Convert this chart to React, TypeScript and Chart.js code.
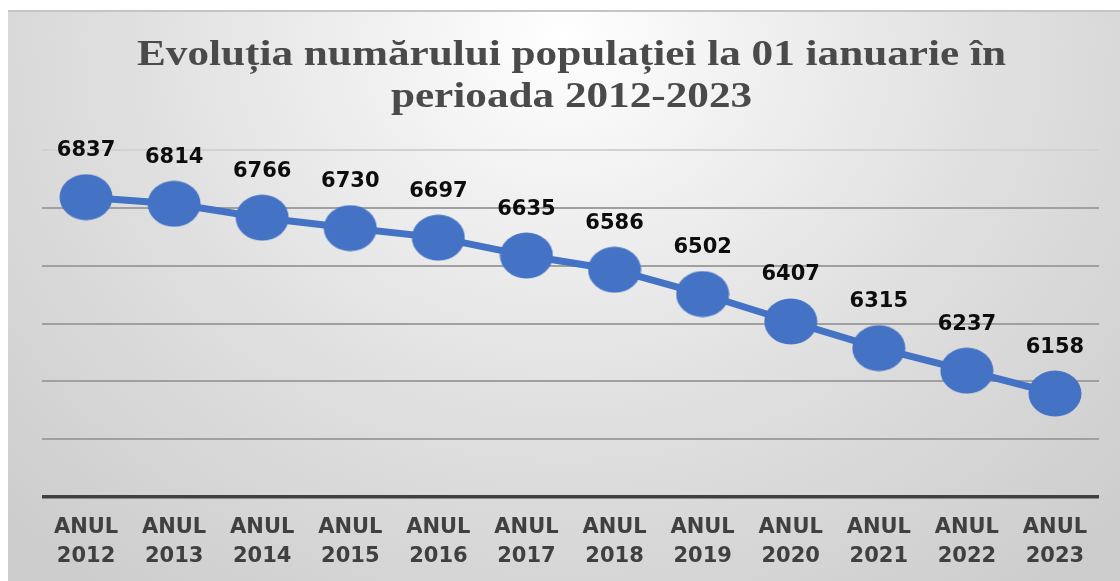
import React, { useEffect, useRef } from "react";
import { Chart, registerables } from "chart.js";

Chart.register(...registerables);

// ---- data ----
const yearLabels = ["2012", "2013", "2014", "2015", "2016", "2017", "2018", "2019", "2020", "2021", "2022", "2023"];
const categoryPrefix = "ANUL";
const population = [6837, 6814, 6766, 6730, 6697, 6635, 6586, 6502, 6407, 6315, 6237, 6158];
const titleLines = ["Evoluția numărului populației la 01 ianuarie în", "perioada 2012-2023"];
const yMin = 5800;
const yMax = 7000;
const yStep = 200;

const BLUE = "#4472C4";

function makeDot(): HTMLCanvasElement {
  const c = document.createElement("canvas");
  const w = 54;
  const h = 47;
  c.width = w;
  c.height = h;
  const g = c.getContext("2d")!;
  g.fillStyle = BLUE;
  g.beginPath();
  g.ellipse(w / 2, h / 2, w / 2 - 0.5, h / 2 - 0.5, 0, 0, Math.PI * 2);
  g.fill();
  return c;
}

const titlePlugin = {
  id: "stretchedTitle",
  afterDraw(chart: any) {
    const ctx = chart.ctx as CanvasRenderingContext2D;
    const area = chart.chartArea;
    const cx = (area.left + area.right) / 2;
    ctx.save();
    ctx.font = "bold 36px 'Liberation Serif'";
    ctx.fillStyle = "#4a4a4a";
    ctx.textAlign = "center";
    ctx.textBaseline = "alphabetic";
    const baselines = [53, 95];
    titleLines.forEach((line, i) => {
      ctx.save();
      ctx.translate(cx + 1, baselines[i]);
      ctx.scale(1.2, 1);
      ctx.fillText(line, 0, 0);
      ctx.restore();
    });
    ctx.restore();
  },
};

const valueLabels = {
  id: "valueLabels",
  afterDatasetsDraw(chart: any) {
    const ctx = chart.ctx as CanvasRenderingContext2D;
    const meta = chart.getDatasetMeta(0);
    ctx.save();
    ctx.font = "bold 21px 'DejaVu Sans'";
    ctx.fillStyle = "#0d0d0d";
    ctx.textAlign = "center";
    ctx.textBaseline = "alphabetic";
    meta.data.forEach((pt: any, i: number) => {
      ctx.fillText(String(population[i]), pt.x, pt.y - 41);
    });
    ctx.restore();
  },
};

export default function App() {
  const ref = useRef<HTMLCanvasElement | null>(null);

  useEffect(() => {
    if (!ref.current) return;
    const dot = makeDot();
    const chart = new Chart(ref.current, {
      type: "line",
      data: {
        labels: yearLabels.map((y) => [categoryPrefix, y]),
        datasets: [
          {
            data: population,
            borderColor: BLUE,
            borderWidth: 7,
            backgroundColor: BLUE,
            pointStyle: dot as any,
            pointRadius: 26,
            pointHoverRadius: 26,
            tension: 0,
            fill: false,
          },
        ],
      },
      options: {
        animation: false,
        responsive: true,
        maintainAspectRatio: false,
        layout: { autoPadding: false, padding: { top: 138, left: 34, right: 21, bottom: 0 } },
        plugins: {
          legend: { display: false },
          title: { display: false },
          tooltip: { enabled: false },
        },
        scales: {
          x: {
            offset: true,
            grid: { display: false, drawTicks: true, tickLength: 6 },
            border: { display: false },
            ticks: {
              padding: 10,
              color: "#404040",
              font: { family: "'DejaVu Sans'", weight: "bold", size: 21, lineHeight: 1.38 },
              maxRotation: 0,
              autoSkip: false,
            },
          },
          y: {
            min: yMin,
            max: yMax,
            ticks: { display: false, stepSize: yStep },
            border: { display: false },
            grid: {
              drawTicks: false,
              color: (c: any) =>
                c.tick && c.tick.value === yMin ? "#404040" : c.tick && c.tick.value === yMax ? "#d2d2d2" : "#a0a0a0",
              lineWidth: (c: any) => (c.tick && c.tick.value === yMin ? 3.5 : 2),
            },
          },
        },
      },
      plugins: [valueLabels, titlePlugin],
    });
    return () => chart.destroy();
  }, []);

  return (
    <div
      style={{
        position: "fixed",
        left: 8,
        top: 10,
        width: 1112,
        height: 571,
        boxSizing: "border-box",
        borderTop: "2px solid #c4c4c4",
        background:
          "radial-gradient(ellipse 70% 120% at 50% 5%, #ffffff 0%, #f0f0f0 25%, #e0e0e0 55%, #cdcdcd 100%)",
      }}
    >
      <canvas ref={ref} />
    </div>
  );
}
